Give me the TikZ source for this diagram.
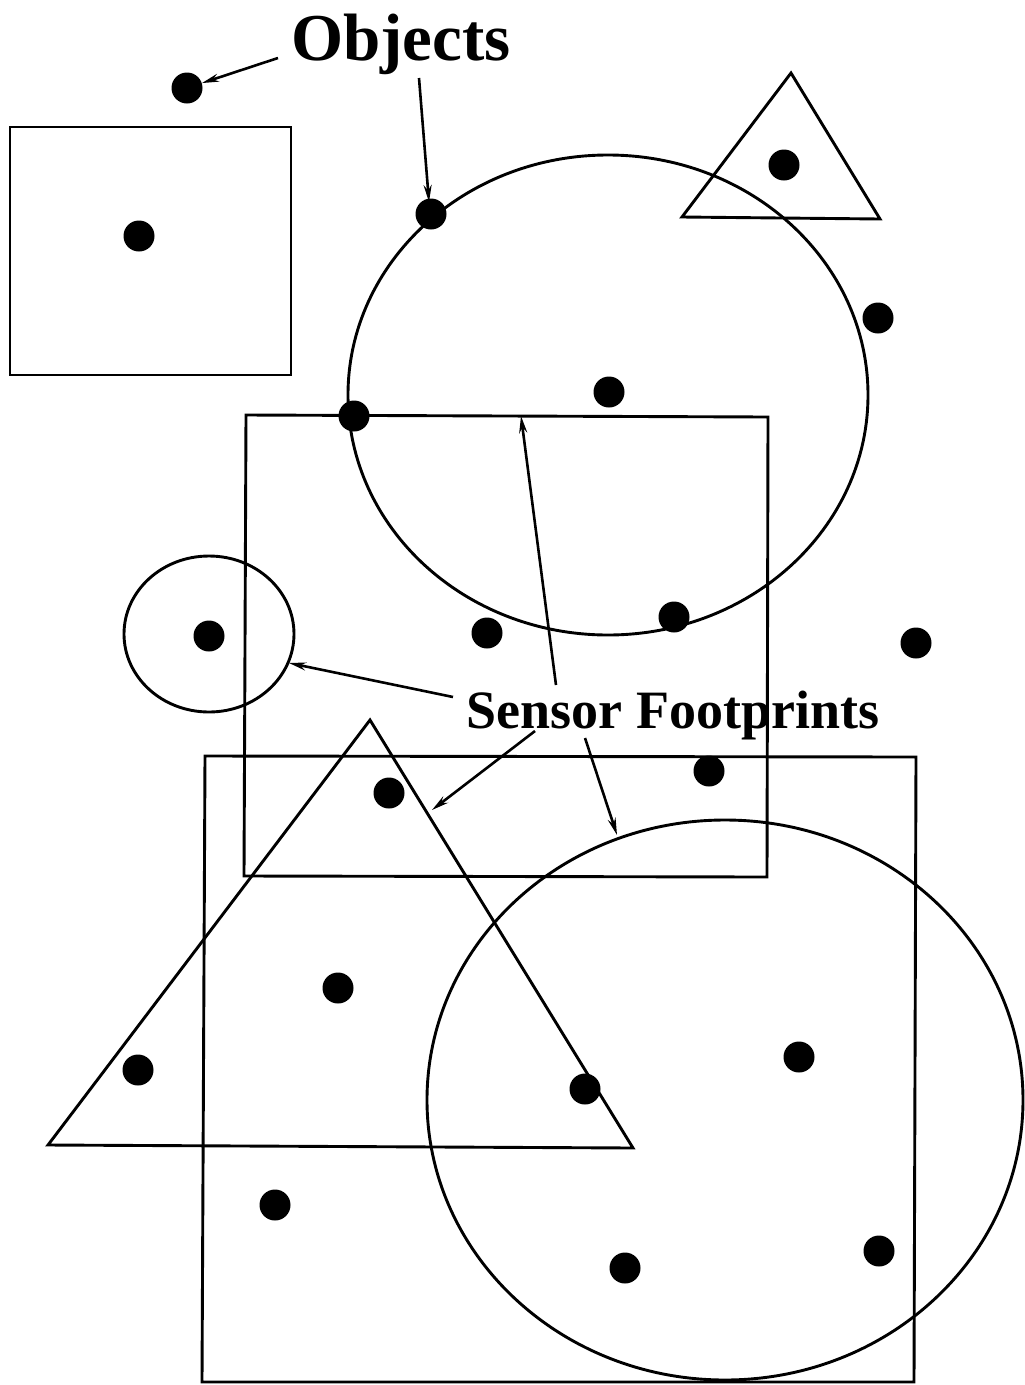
\documentclass[tikz,border=0pt]{standalone}
\usepackage{fontspec}
\setmainfont{Liberation Serif}
\usetikzlibrary{arrows.meta}
\begin{document}
\begin{tikzpicture}[x=1pt,y=-1pt,
  shapeline/.style={line width=2.9pt, line join=miter},
  obj/.style={circle, fill=black, inner sep=0pt, minimum size=31pt},
  lbl/.style={font=\bfseries\fontsize{54}{60}\selectfont, inner sep=0pt},
  biglbl/.style={font=\bfseries\fontsize{67}{72}\selectfont, inner sep=0pt},
  pointer/.style={line width=2.6pt, -{Stealth[length=17pt,width=8pt]}}]
\useasboundingbox (0,0) rectangle (1025,1385);
% footprints
\draw[shapeline] (10,127) rectangle (291,375);
\draw[shapeline] (608,395) ellipse [x radius=260, y radius=240];
\draw[shapeline] (791,73) -- (880,219) -- (682,217) -- cycle;
\draw[shapeline] (246,415) -- (768,417) -- (767,877) -- (244,876) -- cycle;
\draw[shapeline] (209,634) ellipse [x radius=85, y radius=78];
\draw[shapeline] (370,720) -- (633,1148) -- (48,1145) -- cycle;
\draw[shapeline] (205,756) -- (916,757) -- (914,1382) -- (202,1382) -- cycle;
\draw[shapeline] (725,1100) ellipse [x radius=298, y radius=280];
% objects
\node[obj] (d1) at (187,88) {};
\node[obj] (d2) at (139,236) {};
\node[obj] (d3) at (431,214) {};
\node[obj] (d4) at (784,165) {};
\node[obj] (d5) at (878,318) {};
\node[obj] (d6) at (609,392) {};
\node[obj] (d7) at (354,416) {};
\node[obj] (d8) at (209,636) {};
\node[obj] (d9) at (487,633) {};
\node[obj] (d10) at (674,617) {};
\node[obj] (d11) at (916,643) {};
\node[obj] (d12) at (709,771) {};
\node[obj] (d13) at (389,793) {};
\node[obj] (d14) at (338,988) {};
\node[obj] (d15) at (138,1070) {};
\node[obj] (d16) at (585,1089) {};
\node[obj] (d17) at (799,1057) {};
\node[obj] (d18) at (275,1205) {};
\node[obj] (d19) at (625,1268) {};
\node[obj] (d20) at (879,1251) {};
% labels
\node[biglbl, anchor=base] (objlbl) at (401,60) {Objects};
\node[lbl, anchor=base] (senlbl) at (673,728) {Sensor Footprints};
% pointer coordinates
\coordinate (oa) at (278,58);
\coordinate (ob) at (419,78);
\coordinate (ob2) at (429,202);
\coordinate (sa) at (453,697);
\coordinate (sa2) at (289,663);
\coordinate (sb) at (556,685);
\coordinate (sb2) at (521,416);
\coordinate (sc) at (535,731);
\coordinate (sc2) at (432,810);
\coordinate (sd) at (585,738);
\coordinate (sd2) at (617,835);
\draw[pointer] (oa) -- (d1);
\draw[pointer] (ob) -- (ob2);
\draw[pointer] (sa) -- (sa2);
\draw[pointer] (sb) -- (sb2);
\draw[pointer] (sc) -- (sc2);
\draw[pointer] (sd) -- (sd2);
\end{tikzpicture}
\end{document}
